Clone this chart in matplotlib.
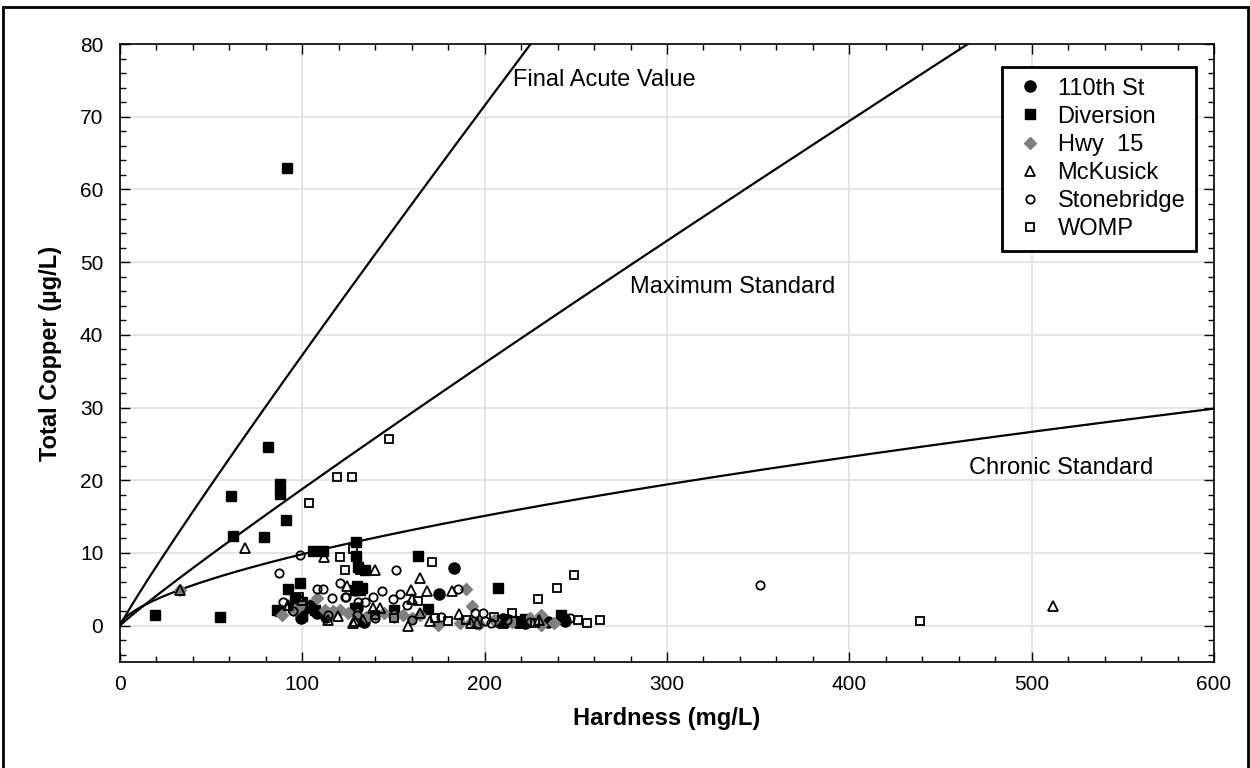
import numpy as np
import matplotlib.pyplot as plt
from matplotlib.patches import Rectangle
from matplotlib.ticker import MultipleLocator

plt.rcParams['font.family'] = ['Liberation Sans', 'DejaVu Sans']

# hardness (mg/L) and total copper (ug/L) for each site
st110_h = [183, 175, 105, 108, 113, 99, 130, 134, 196, 207, 210, 213, 217, 222, 235, 244]
st110_c = [7.9, 4.4, 2.7, 1.8, 1.2, 1.1, 2.4, 0.5, 0.4, 0.6, 0.9, 0.8, 0.5, 0.4, 0.5, 0.6]

div_h = [19, 55, 61, 62, 79, 81, 87.6, 87.6, 91.5, 91.2, 105.7, 111.2, 129.4, 129.4, 130.7,
         134.4, 163.6, 207.5, 92.3, 98.7, 96, 99.6, 86, 99.6, 107, 129, 131.6, 129.8, 132.6,
         129, 150, 169, 242, 210, 222, 215, 100, 95, 88]
div_c = [1.5, 1.2, 17.9, 12.4, 12.2, 24.6, 19.5, 18.1, 63, 14.5, 10.3, 10.3, 11.5, 9.6, 8.1,
         7.7, 9.6, 5.2, 5.0, 5.9, 3.7, 3.3, 2.2, 1.3, 2.2, 4.9, 4.9, 5.4, 5.2,
         2.4, 2.2, 2.3, 1.5, 0.5, 0.9, 0.7, 1.5, 2.5, 2.0]

hwy_h = [33, 88.7, 96, 108, 112.4, 117, 120.7, 125, 130, 135, 140, 145, 150, 155, 160, 164.5,
         174.6, 186.5, 190, 193, 193, 197, 205, 215, 225, 231, 231, 238, 100, 115]
hwy_c = [4.9, 1.5, 2.2, 3.8, 2.2, 2.0, 2.2, 1.8, 1.5, 1.2, 1.4, 1.7, 1.2, 1.5, 1.0, 1.5,
         0.1, 0.4, 5.1, 2.7, 0.6, 0.2, 0.8, 0.5, 1.0, 1.5, 0.1, 0.3, 3.0, 1.5]

mck_h = [33, 68.6, 111.9, 139.9, 164.5, 168.2, 182.3, 159.4, 160, 124.3, 92.3, 106, 114.3,
         119.8, 129, 133.5, 128, 139, 142.6, 158, 164.5, 170, 186, 192.5, 195.6, 511.7, 210,
         100, 104, 220, 230]
mck_c = [4.9, 10.7, 9.4, 7.7, 6.5, 4.8, 4.8, 4.9, 3.6, 5.5, 2.9, 2.4, 0.8,
         1.3, 0.6, 0.8, 0.4, 2.4, 2.4, 0.0, 1.7, 0.6, 1.6, 0.4, 0.4, 2.7, 0.4,
         3.5, 2.8, 0.3, 0.8]

stone_h = [98.7, 87.4, 120.7, 107.9, 111.5, 116, 124, 89.2, 130.7, 151.4, 123.4, 129, 134.4,
           138.9, 143.5, 149.9, 153.6, 157.2, 185.2, 194.7, 199.3, 200.2, 203.5, 244, 246.8,
           351, 130, 140, 160, 176, 212, 225, 95, 114]
stone_c = [9.7, 7.2, 5.9, 5.0, 5.0, 3.8, 4.0, 3.3, 3.3, 7.7, 4.0, 4.7, 3.3,
           4.0, 4.7, 3.6, 4.3, 2.9, 5.1, 1.7, 1.7, 0.6, 0.4, 1.0, 1.0,
           5.6, 1.5, 1.0, 0.8, 1.2, 0.8, 0.5, 2.0, 1.5]

womp_h = [103.7, 118.8, 127.4, 147.5, 120.7, 127.6, 171, 123.4, 131.6, 163.6, 172.8, 179.7,
          214.8, 229.4, 239.5, 249, 227.6, 251.4, 256, 263.3, 438.8, 98, 150, 140, 190, 205, 220]
womp_c = [16.9, 20.5, 20.5, 25.7, 9.4, 10.5, 8.8, 7.7, 7.7, 3.4, 1.06, 0.6,
          1.7, 3.7, 5.2, 6.9, 0.4, 0.8, 0.4, 0.8, 0.7, 4.0, 1.0, 1.5, 0.8, 1.2, 0.6]

# hardness-based copper standards: exp(slope * ln(H) + b)
chronic_slope, chronic_b = 0.62, -0.57
max_slope, max_b = 0.9422, -1.405
fav_factor = 1.98

fig = plt.figure(figsize=(12.5, 7.68), dpi=100)
ax = fig.add_axes([0.096, 0.138, 0.8752, 0.8047])

hh = np.linspace(0.01, 600, 1200)
chronic = np.exp(chronic_slope * np.log(hh) + chronic_b)
maximum = np.exp(max_slope * np.log(hh) + max_b)
ax.plot(hh, chronic, 'k-', lw=1.6, zorder=2)
ax.plot(hh, maximum, 'k-', lw=1.6, zorder=2)
ax.plot(hh, fav_factor * maximum, 'k-', lw=1.6, zorder=2)

ax.plot(st110_h, st110_c, 'o', ms=8, mfc='k', mec='k', ls='none', label='110th St', zorder=3)
ax.plot(div_h, div_c, 's', ms=6.5, mfc='k', mec='k', ls='none', label='Diversion', zorder=3)
ax.plot(hwy_h, hwy_c, 'D', ms=6.5, mfc='#808080', mec='#808080', ls='none', label='Hwy  15', zorder=3)
ax.plot(mck_h, mck_c, '^', ms=6.5, mfc='none', mec='k', mew=1.3, ls='none', label='McKusick', zorder=3)
ax.plot(stone_h, stone_c, 'o', ms=6, mfc='none', mec='k', mew=1.3, ls='none', label='Stonebridge', zorder=3)
ax.plot(womp_h, womp_c, 's', ms=5.5, mfc='none', mec='k', mew=1.3, ls='none', label='WOMP', zorder=3)

ax.text(215.5, 75, 'Final Acute Value', fontsize=17, va='center', ha='left')
ax.text(279.7, 46.6, 'Maximum Standard', fontsize=17, va='center', ha='left')
ax.text(465.7, 21.7, 'Chronic Standard', fontsize=17, va='center', ha='left')

ax.set_xlim(0, 600)
ax.set_ylim(-5, 80)
ax.xaxis.set_major_locator(MultipleLocator(100))
ax.xaxis.set_minor_locator(MultipleLocator(20))
ax.yaxis.set_major_locator(MultipleLocator(10))
ax.yaxis.set_minor_locator(MultipleLocator(2))
ax.grid(True, which='major', color='#e0e0e0', lw=1.2, zorder=0)
ax.set_axisbelow(True)
ax.tick_params(which='both', direction='in', top=True, right=True, labelsize=15, width=1)
ax.tick_params(which='major', length=7)
ax.tick_params(which='minor', length=4)
ax.tick_params(axis='y', pad=12)
ax.tick_params(axis='x', pad=9)
for s in ax.spines.values():
    s.set_linewidth(1.2)

ax.set_xlabel('Hardness (mg/L)', fontsize=17, fontweight='bold', labelpad=10)
ax.set_ylabel('Total Copper (µg/L)', fontsize=17, fontweight='bold', labelpad=13)

leg = ax.legend(loc='upper right', bbox_to_anchor=(0.9835, 0.9628), borderaxespad=0,
                fontsize=17, frameon=True, fancybox=False, framealpha=1, edgecolor='k',
                borderpad=0.45, labelspacing=0.26, handletextpad=0.4, handlelength=1.5)
leg.get_frame().set_linewidth(2)

fig.patches.append(Rectangle((3 / 1250, -0.01), 1245 / 1250, 1 - 7 / 768 + 0.01,
                             transform=fig.transFigure, fill=False, ec='k', lw=2))

fig.savefig('out.png', dpi=100)
